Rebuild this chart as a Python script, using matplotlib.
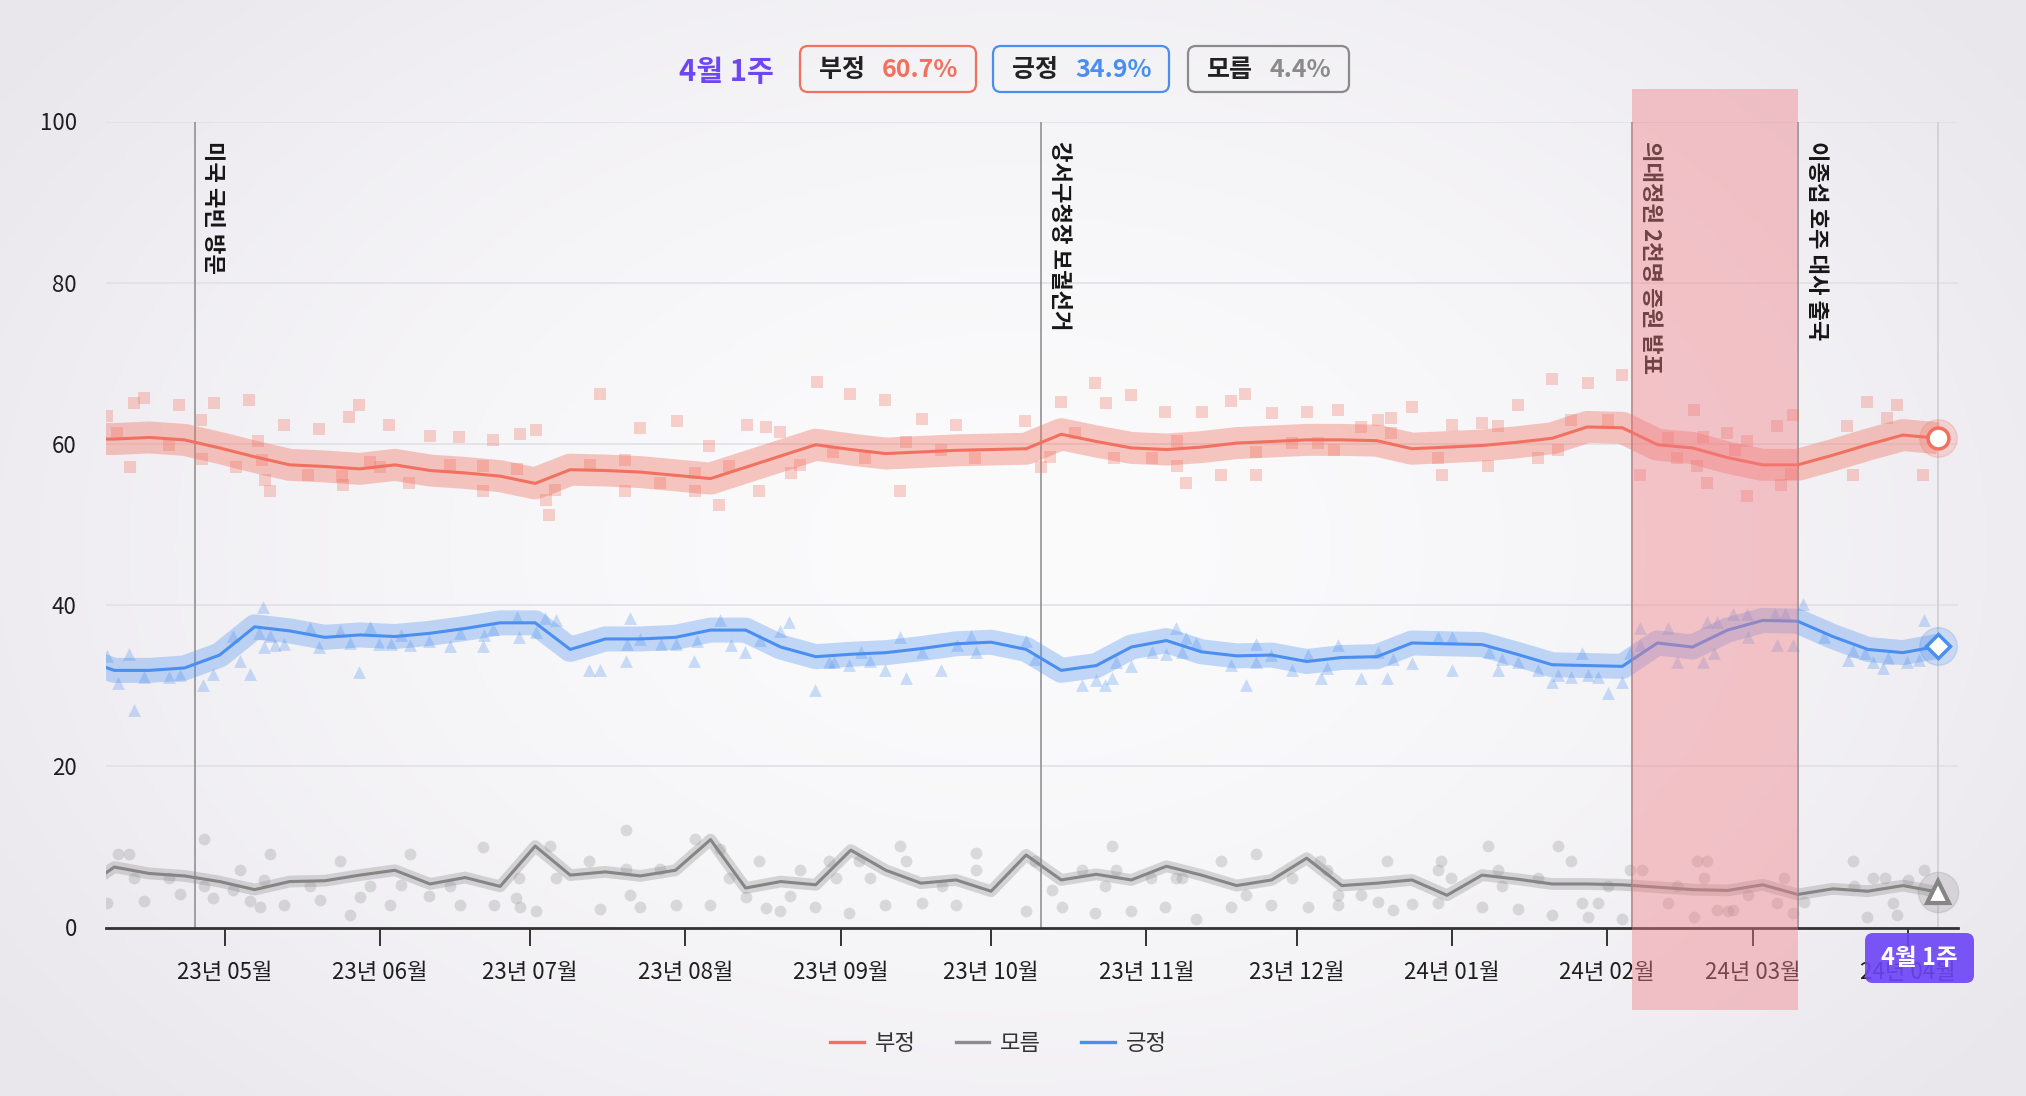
import numpy as np
import pandas as pd
import matplotlib
matplotlib.use("Agg")
import matplotlib.pyplot as plt
import matplotlib.dates as mdates
from matplotlib.patches import FancyBboxPatch
from matplotlib.lines import Line2D
from matplotlib.transforms import IdentityTransform

plt.rcParams['font.family'] = ['Noto Sans CJK KR', 'DejaVu Sans']

W, H = 2026, 1096

# weekly trend lines: first point 2023-04-02, then every 7 days up to 2024-04-07
trend_start = "2023-04-02"
neg_trend = [60.6, 60.6, 60.8, 60.5, 59.5, 58.4, 57.4, 57.2, 56.9, 57.4, 56.7, 56.4, 56.0, 55.1,
             56.8, 56.7, 56.5, 56.1, 55.7, 57.1, 58.5, 59.9, 59.3, 58.8, 59.0, 59.2, 59.3, 59.4,
             61.2, 60.3, 59.5, 59.3, 59.6, 60.1, 60.3, 60.5, 60.5, 60.4, 59.4, 59.6, 59.8, 60.2,
             60.7, 62.1, 62.0, 59.9, 59.5, 58.3, 57.4, 57.4, 58.6, 59.9, 61.1, 60.7]
pos_trend = [33.4, 31.9, 31.9, 32.2, 33.8, 37.3, 36.8, 36.0, 36.3, 36.1, 36.5, 37.1, 37.8, 37.8,
             34.5, 35.8, 35.8, 36.0, 36.9, 36.9, 34.8, 33.6, 33.9, 34.1, 34.6, 35.2, 35.4, 34.5,
             31.9, 32.5, 34.8, 35.6, 34.2, 33.7, 33.8, 33.0, 33.5, 33.6, 35.3, 35.2, 35.1, 33.9,
             32.6, 32.5, 32.4, 35.3, 34.8, 36.9, 38.1, 38.0, 36.1, 34.5, 34.1, 34.9]
unk_trend = [4.5, 7.5, 6.7, 6.4, 5.7, 4.7, 5.7, 5.8, 6.5, 7.1, 5.4, 6.2, 5.1, 10.1,
             6.5, 6.9, 6.4, 7.1, 10.9, 4.9, 5.7, 5.3, 9.6, 7.1, 5.5, 5.9, 4.5, 9.0,
             5.9, 6.6, 5.9, 7.6, 6.5, 5.2, 5.9, 8.6, 5.2, 5.5, 5.9, 4.0, 6.5, 6.0,
             5.4, 5.4, 5.3, 5.0, 4.7, 4.6, 5.3, 4.1, 4.8, 4.5, 5.2, 4.4]

# single polls: (weeks after 2023-04-09, value)
poll_base = "2023-04-09"
neg_polls = [(-0.22, 63.4), (0.07, 61.3), (0.44, 57.1), (0.57, 65.1), (0.84, 65.7), (1.57, 59.9),
             (1.84, 64.8), (2.48, 63.0), (2.51, 58.1), (2.84, 65.1), (3.48, 57.1), (3.84, 65.5),
             (4.11, 60.3), (4.20, 58.0), (4.29, 55.5), (4.44, 54.1), (4.84, 62.3), (5.53, 56.1),
             (5.84, 61.9), (6.48, 56.0), (6.52, 54.9), (6.70, 63.3), (6.99, 64.8), (7.30, 57.8),
             (7.57, 57.1), (7.84, 62.4), (8.39, 55.1), (8.99, 61.0), (9.57, 57.4), (9.84, 60.9),
             (10.52, 57.3), (10.52, 54.1), (10.81, 60.5), (11.48, 56.9), (11.57, 61.2), (12.03, 61.7),
             (12.30, 53.1), (12.39, 51.2), (12.57, 54.3), (13.57, 57.4), (13.85, 66.2), (14.57, 58.0),
             (14.57, 54.1), (14.99, 62.0), (15.57, 55.2), (16.03, 62.8), (16.57, 56.4), (16.57, 54.1),
             (16.97, 59.8), (17.25, 52.4), (17.54, 57.3), (18.03, 62.4), (18.39, 54.1), (18.58, 62.1),
             (18.99, 61.5), (19.30, 56.4), (19.54, 57.4), (20.03, 67.7), (20.49, 59.0), (20.99, 66.2),
             (21.40, 58.2), (21.98, 65.5), (22.40, 54.1), (22.58, 60.2), (23.03, 63.1), (23.58, 59.2),
             (24.00, 62.4), (24.54, 58.2), (25.98, 62.8), (26.43, 57.1), (26.67, 58.4), (27.00, 65.2),
             (27.40, 61.3), (27.97, 67.6), (28.28, 65.1), (28.51, 58.2), (28.98, 66.1), (29.58, 58.2),
             (29.96, 64.0), (30.30, 60.3), (30.30, 57.2), (30.55, 55.2), (31.00, 64.0), (31.57, 56.2),
             (31.85, 65.3), (32.25, 66.2), (32.55, 59.0), (32.55, 56.2), (33.00, 63.8), (33.57, 60.1),
             (34.01, 64.0), (34.33, 60.1), (34.78, 59.3), (34.90, 64.2), (35.56, 62.1), (36.02, 63.0),
             (36.40, 63.2), (36.40, 61.3), (37.00, 64.6), (37.74, 58.2), (37.86, 56.2), (38.14, 62.3),
             (38.99, 62.6), (39.16, 57.2), (39.45, 62.2), (40.02, 64.8), (40.59, 58.2), (40.99, 68.1),
             (41.16, 59.2), (41.55, 63.0), (42.01, 67.5), (42.58, 63.0), (42.98, 68.6), (43.49, 56.2),
             (44.29, 60.7), (44.57, 58.2), (45.03, 64.2), (45.14, 57.2), (45.31, 60.9), (45.42, 55.1),
             (45.99, 61.3), (46.22, 59.2), (46.56, 60.3), (46.56, 53.5), (47.42, 62.2), (47.53, 54.9),
             (47.82, 56.3), (47.87, 63.6), (49.41, 62.2), (49.58, 56.2), (49.98, 65.2), (50.55, 63.2),
             (50.83, 64.8), (51.57, 56.2)]
pos_polls = [(-0.21, 33.7), (0.09, 30.3), (0.43, 33.9), (0.56, 27.0), (0.84, 31.1), (1.57, 31.1),
             (1.86, 31.3), (2.53, 30.1), (2.82, 31.5), (3.38, 36.2), (3.57, 33.1), (3.87, 31.5),
             (4.12, 36.5), (4.25, 39.8), (4.27, 34.8), (4.44, 36.2), (4.57, 35.0), (4.83, 35.2),
             (5.58, 37.1), (5.84, 34.8), (6.44, 36.8), (6.73, 35.3), (6.99, 31.7), (7.28, 37.3),
             (7.56, 35.2), (7.88, 35.2), (8.17, 36.3), (8.42, 35.0), (8.98, 35.5), (9.57, 34.9),
             (9.85, 36.5), (10.51, 34.9), (10.55, 36.3), (10.80, 37.0), (11.48, 38.5), (11.54, 36.1),
             (12.01, 36.7), (12.29, 38.4), (12.59, 38.1), (13.54, 32.0), (13.86, 32.0), (14.59, 33.1),
             (14.62, 35.2), (14.69, 38.4), (15.00, 35.8), (15.58, 35.2), (16.02, 35.2), (16.53, 33.1),
             (16.60, 35.5), (17.27, 38.1), (17.57, 35.0), (17.97, 34.2), (18.42, 35.7), (18.97, 36.8),
             (19.25, 37.9), (19.98, 29.5), (20.39, 33.0), (20.52, 33.0), (20.96, 32.6), (21.28, 34.2),
             (21.54, 33.1), (21.98, 32.0), (22.40, 36.1), (22.56, 31.0), (23.04, 34.2), (23.57, 32.0),
             (24.02, 35.0), (24.44, 36.2), (24.57, 34.2), (26.00, 35.6), (26.25, 33.3), (27.58, 30.1),
             (28.00, 30.7), (28.26, 30.1), (28.44, 31.0), (28.56, 33.0), (28.98, 32.4), (29.58, 34.2),
             (29.99, 33.9), (30.26, 37.1), (30.45, 34.2), (30.57, 35.9), (30.83, 35.3), (31.85, 32.6),
             (32.26, 30.1), (32.55, 35.2), (32.55, 33.0), (32.99, 33.8), (33.57, 32.0), (34.04, 33.8),
             (34.42, 31.0), (34.58, 32.2), (34.88, 35.0), (35.56, 31.0), (36.02, 34.2), (36.30, 31.0),
             (36.46, 33.3), (37.00, 32.8), (37.74, 36.1), (38.14, 36.1), (38.14, 32.0), (39.19, 34.2),
             (39.45, 32.0), (39.56, 33.3), (40.02, 33.0), (40.59, 32.0), (40.99, 30.5), (41.16, 31.3),
             (41.55, 31.1), (41.84, 34.0), (42.01, 31.3), (42.30, 31.1), (42.58, 29.1), (42.98, 30.5),
             (43.21, 34.0), (43.49, 37.1), (43.49, 35.0), (44.29, 37.1), (44.57, 33.0), (45.31, 33.0),
             (45.42, 37.9), (45.60, 34.0), (45.71, 37.9), (46.16, 38.9), (46.56, 38.9), (46.59, 36.1),
             (47.36, 38.9), (47.42, 35.0), (47.64, 38.9), (47.87, 35.0), (48.16, 40.1), (48.75, 36.1),
             (49.43, 33.2), (49.58, 34.3), (49.92, 34.0), (50.15, 33.0), (50.43, 32.2), (50.57, 33.4),
             (51.12, 33.0), (51.46, 33.2), (51.59, 38.2)]
unk_polls = [(-0.21, 3.1), (0.09, 9.1), (0.43, 9.1), (0.56, 6.2), (0.84, 3.3), (1.57, 6.1),
             (1.87, 4.2), (2.56, 11.0), (2.56, 5.1), (2.82, 3.6), (3.38, 4.6), (3.57, 7.1),
             (3.87, 3.3), (4.16, 2.6), (4.27, 5.9), (4.43, 9.1), (4.83, 2.8), (5.58, 5.1),
             (5.85, 3.4), (6.44, 8.2), (6.73, 1.6), (7.00, 3.8), (7.28, 5.1), (7.85, 2.8),
             (8.16, 5.3), (8.42, 9.1), (8.98, 3.9), (9.57, 5.1), (9.85, 2.8), (10.52, 10.0),
             (10.83, 2.8), (11.44, 3.7), (11.54, 6.1), (11.57, 2.6), (12.01, 2.0), (12.42, 10.1),
             (12.59, 6.1), (13.54, 8.2), (13.86, 2.3), (14.59, 12.1), (14.59, 7.2), (14.69, 4.0),
             (14.98, 2.5), (15.55, 7.2), (16.02, 2.8), (16.57, 11.0), (16.98, 2.8), (17.27, 9.8),
             (17.53, 6.1), (18.00, 3.8), (18.39, 8.2), (18.58, 2.4), (18.97, 2.0), (19.27, 3.9),
             (19.56, 7.1), (19.98, 2.5), (20.39, 8.2), (20.58, 6.1), (20.96, 1.8), (21.22, 8.2),
             (21.54, 6.1), (21.98, 2.8), (22.40, 10.1), (22.56, 8.2), (23.04, 3.0), (23.60, 5.1),
             (23.99, 2.8), (24.57, 9.2), (24.57, 7.1), (25.99, 2.0), (26.25, 8.2), (26.73, 4.6),
             (27.01, 2.6), (27.58, 7.1), (27.97, 1.8), (28.26, 5.1), (28.44, 10.1), (28.56, 7.1),
             (28.98, 2.0), (29.56, 6.1), (29.96, 2.6), (30.26, 6.1), (30.45, 6.1), (30.83, 1.1),
             (31.57, 8.2), (31.85, 2.5), (32.26, 4.0), (32.55, 9.1), (32.99, 2.8), (33.57, 6.1),
             (34.04, 2.5), (34.39, 8.2), (34.58, 7.1), (34.88, 4.0), (34.88, 2.8), (35.56, 4.0),
             (36.02, 3.2), (36.30, 8.2), (36.46, 2.2), (37.00, 2.9), (37.74, 3.1), (37.74, 7.1),
             (37.82, 8.2), (38.12, 6.1), (38.99, 2.5), (39.16, 10.1), (39.45, 7.1), (39.56, 5.1),
             (40.02, 2.3), (40.59, 6.1), (40.99, 1.6), (41.16, 10.1), (41.55, 8.2), (41.84, 3.1),
             (42.01, 1.3), (42.30, 3.1), (42.58, 5.1), (42.98, 1.1), (43.21, 7.1), (43.55, 7.1),
             (44.29, 3.0), (44.57, 5.1), (45.03, 1.3), (45.14, 8.2), (45.33, 6.1), (45.42, 8.2),
             (45.71, 2.2), (46.02, 2.0), (46.16, 2.2), (46.59, 4.0), (47.42, 3.1), (47.61, 6.1),
             (47.87, 1.8), (48.18, 3.2), (49.58, 8.2), (49.61, 5.1), (49.99, 1.3), (50.15, 6.1),
             (50.49, 6.1), (50.72, 3.1), (50.83, 1.6), (51.14, 5.9), (51.59, 7.1)]

events = [("2023-04-25", "미국 국빈 방문"),
          ("2023-10-11", "강서구청장 보궐선거"),
          ("2024-02-06", "의대정원 2천명 증원 발표"),
          ("2024-03-10", "이종섭 호주 대사 출국")]
band_start, band_end = "2024-02-06", "2024-03-10"
last_week = "2024-04-07"
last_label = "4월 1주"
summary_names = ["부정", "긍정", "모름"]
summary_values = [60.7, 34.9, 4.4]

RED, BLUE, GRAY = "#f2705f", "#4a8ff0", "#858585"

fig = plt.figure(figsize=(W / 100, H / 100), dpi=100)

# soft background
bg = fig.add_axes([0, 0, 1, 1], zorder=-1)
gy, gx = np.mgrid[0:1:300j, 0:1:500j]
r = np.clip(np.hypot((gx - 0.5) / 0.62, (gy - 0.5) / 0.78), 0, 1)
c_in = np.array([251, 251, 252]) / 255
c_out = np.array([233, 230, 236]) / 255
bg.imshow(c_in + (c_out - c_in) * (r ** 1.6)[..., None], extent=[0, 1, 0, 1], aspect="auto", origin="lower")
bg.axis("off")

ax = fig.add_axes([106 / W, 1 - 927.5 / H, (1958 - 106) / W, 806 / H])
ax.patch.set_alpha(0)

tdates = pd.date_range(trend_start, periods=len(neg_trend), freq="7D")
base = pd.Timestamp(poll_base)

series = [("부정", neg_trend, neg_polls, RED, "s", 75, 0.30, 23, 0.38),
          ("긍정", pos_trend, pos_polls, BLUE, "^", 85, 0.28, 18, 0.32),
          ("모름", unk_trend, unk_polls, GRAY, "o", 72, 0.26, 8.5, 0.30)]
for name, trend, polls, col, mk, sz, pa, bw, ba in series:
    wk = np.array([p[0] for p in polls])
    vals = [p[1] for p in polls]
    pdates = base + pd.to_timedelta(wk * 7, unit="D")
    ax.scatter(pdates, vals, marker=mk, s=sz, color=col, alpha=pa, lw=0, zorder=2)
    ax.plot(tdates, trend, color=col, lw=bw, alpha=ba, solid_joinstyle="round",
            solid_capstyle="butt", zorder=3)
    ax.plot(tdates, trend, color=col, lw=2.2, solid_joinstyle="round", zorder=4)

# events
for d, label in events:
    ax.axvline(pd.Timestamp(d), color="#8a8a8a", lw=1.1, zorder=1.5)
    ax.annotate(label, xy=(pd.Timestamp(d), 100), xytext=(5, -14), textcoords="offset points",
                rotation=270, ha="left", va="top", fontsize=16, fontweight="bold",
                color="#161616", zorder=5)
ax.axvline(pd.Timestamp(last_week), color="#cdccd0", lw=1.1, zorder=1.5)
ax.axvspan(pd.Timestamp(band_start), pd.Timestamp(band_end), ymin=-0.1024, ymax=1.0403,
           color="#f08088", alpha=0.42, lw=0, zorder=6, clip_on=False)

# end markers
ld = pd.Timestamp(last_week)
ax.plot(ld, summary_values[0], "o", ms=27, color=RED, alpha=0.22, zorder=7)
ax.plot(ld, summary_values[0], "o", ms=15, mfc="white", mec=RED, mew=2.5, zorder=8)
ax.plot(ld, summary_values[1], "o", ms=27, color=BLUE, alpha=0.22, zorder=7)
ax.plot(ld, summary_values[1], "D", ms=12, mfc="white", mec=BLUE, mew=2.5, zorder=8)
ax.plot(ld, summary_values[2], "o", ms=29, color=GRAY, alpha=0.22, zorder=7, clip_on=False)
ax.plot(ld, summary_values[2], "^", ms=16, mfc="white", mec=GRAY, mew=3, zorder=8, clip_on=False)

ax.set_ylim(0, 100)
ax.set_yticks([0, 20, 40, 60, 80, 100])
ax.set_xlim(pd.Timestamp("2023-04-07 08:00"), pd.Timestamp("2024-04-11"))
ax.xaxis.set_major_locator(mdates.MonthLocator(bymonthday=1))
ax.xaxis.set_major_formatter(mdates.DateFormatter("%y년 %m월"))
for s in ["top", "right", "left"]:
    ax.spines[s].set_visible(False)
ax.spines["bottom"].set_color("#333333")
ax.spines["bottom"].set_linewidth(2)
ax.tick_params(axis="x", length=13, width=1.4, color="#333333", pad=11, labelsize=16, labelcolor="#1e1e1e")
ax.tick_params(axis="y", length=0, pad=21, labelsize=16, labelcolor="#1e1e1e")
ax.yaxis.grid(True, color="#e2e0e5", lw=1.2)
ax.set_axisbelow(True)

px = IdentityTransform()

# header
fig.text(726, H - 72, last_label, transform=px, ha="center", va="center",
         fontsize=21, fontweight="bold", color="#6e47f2")
box_x = [800, 993, 1188]
box_w = [176, 176, 161]
box_col = [RED, BLUE, "#8a8a8a"]
for x0, w, col, name, v in zip(box_x, box_w, box_col, summary_names, summary_values):
    fig.add_artist(FancyBboxPatch((x0, H - 92), w, 46, boxstyle="round,pad=0,rounding_size=8",
                                  transform=px, fc="none", ec=col, lw=1.6))
    fig.text(x0 + 19, H - 70, name, transform=px, ha="left", va="center",
             fontsize=18, fontweight="bold", color="#222222")
    fig.text(x0 + 82, H - 70, f"{v}%", transform=px, ha="left", va="center",
             fontsize=18, fontweight="bold", color=col)

# badge over the last tick
fig.add_artist(FancyBboxPatch((1865, H - 983), 109, 50, boxstyle="round,pad=0,rounding_size=8",
                              transform=px, fc="#6c44f5", ec="none", alpha=0.9))
fig.text(1919.5, H - 958, last_label, transform=px, ha="center", va="center",
         fontsize=17, fontweight="bold", color="white")

# legend
handles = [Line2D([], [], color=RED, lw=2.4), Line2D([], [], color="#8c8c8c", lw=2.4),
           Line2D([], [], color=BLUE, lw=2.4)]
fig.legend(handles, ["부정", "모름", "긍정"], loc="center", bbox_to_anchor=(998.5 / W, 1 - 1043 / H),
           ncol=3, frameon=False, fontsize=16, handlelength=1.5, handletextpad=0.5,
           columnspacing=1.8, labelcolor="#333333")

fig.savefig("out.png", dpi=100)
